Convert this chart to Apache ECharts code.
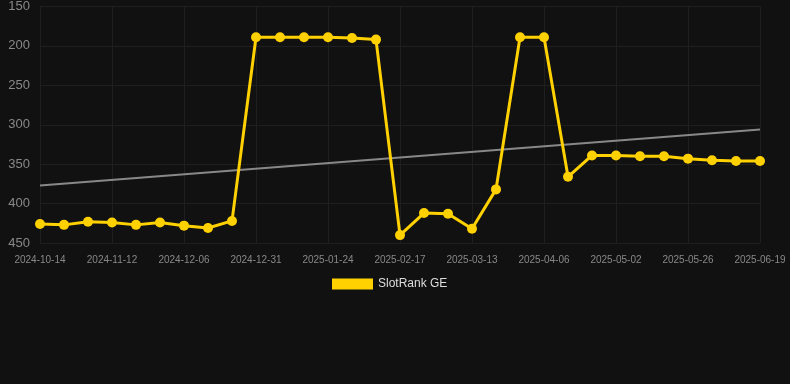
<!DOCTYPE html>
<html>
<head>
<meta charset="utf-8">
<script src="https://cdn.jsdelivr.net/npm/echarts@6/dist/echarts.min.js"></script>
<style>
html, body { margin: 0; padding: 0; background: #111111; }
#chart { width: 790px; height: 384px; }
</style>
</head>
<body>
<div id="chart"></div>
<script>
var dates = [
    "2024-10-14", "2024-10-24", "2024-11-03", "2024-11-12", "2024-11-20", "2024-11-28",
    "2024-12-06", "2024-12-14", "2024-12-23", "2024-12-31", "2025-01-08", "2025-01-16",
    "2025-01-24", "2025-02-01", "2025-02-09", "2025-02-17", "2025-02-25", "2025-03-05",
    "2025-03-13", "2025-03-21", "2025-03-29", "2025-04-06", "2025-04-15", "2025-04-24",
    "2025-05-02", "2025-05-10", "2025-05-18", "2025-05-26", "2025-06-03", "2025-06-11",
    "2025-06-19"
];
var rankValues = [
    426, 427, 423, 424, 427, 424, 428, 431, 422, 189, 189, 189,
    189, 190, 192, 440, 412, 413, 432, 382, 189, 189, 366, 339,
    339, 340, 340, 343, 345, 346, 346
];
// trend line end points, gaps in between are joined
var trendValues = [377];
for (var i = 1; i < dates.length - 1; ++i) {
    trendValues.push(null);
}
trendValues.push(306);

var chart = echarts.init(document.getElementById("chart"));
var option = {
    backgroundColor: "#111111",
    animation: false,
    grid: {
        left: 40,
        right: 30,
        top: 6,
        bottom: 141
    },
    legend: {
        top: 273,
        left: 327,
        itemWidth: 41,
        itemHeight: 11,
        itemGap: 10,
        data: [{ name: "SlotRank GE", icon: "rect" }],
        textStyle: { color: "#dddddd", fontSize: 12 }
    },
    xAxis: {
        type: "category",
        data: dates,
        boundaryGap: false,
        axisLine: { show: false },
        axisTick: { show: false },
        axisLabel: { color: "#888888", fontSize: 10, interval: 2, margin: 12 },
        splitLine: { show: true, interval: 2, lineStyle: { color: "#1f1f1f", width: 1 } }
    },
    yAxis: {
        type: "value",
        inverse: true,
        min: 150,
        max: 450,
        interval: 50,
        axisLine: { show: false },
        axisTick: { show: false },
        axisLabel: { color: "#888888", fontSize: 13, margin: 10 },
        splitLine: { lineStyle: { color: "#1f1f1f", width: 1 } }
    },
    series: [
        {
            name: "SlotRank GE",
            type: "line",
            data: rankValues,
            symbol: "circle",
            symbolSize: 10,
            itemStyle: { color: "#FFD100" },
            lineStyle: { color: "#FFD100", width: 3 },
            z: 3
        },
        {
            name: "trend",
            type: "line",
            data: trendValues,
            connectNulls: true,
            symbol: "none",
            lineStyle: { color: "#888888", width: 2 },
            z: 2
        }
    ]
};
chart.setOption(option);
</script>
</body>
</html>
